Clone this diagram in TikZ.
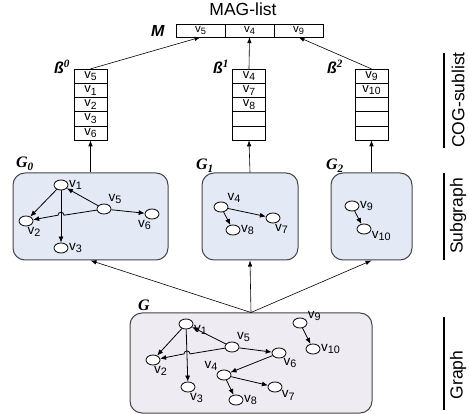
\documentclass[tikz,border=0pt]{standalone}
\usepackage{fontspec}
\setmainfont{Liberation Serif}
\setsansfont{Liberation Sans}
\usetikzlibrary{shapes.geometric}
\usetikzlibrary{arrows.meta}
\definecolor{subfill}{RGB}{227,233,245}
\definecolor{graphfill}{RGB}{238,235,242}
\definecolor{boxline}{RGB}{70,70,70}
\newcommand{\vtx}[1]{v\raisebox{-0.35ex}{\scalebox{0.8}{#1}}}
\newcommand{\gname}[2]{\textbf{\textit{#1}}\textsubscript{\textbf{\textit{#2}}}}
\newcommand{\bname}[1]{\textsf{\textbf{\textit{ß}}}\textsuperscript{\textbf{\textit{#1}}}}

\begin{document}
\begin{tikzpicture}[x=1pt,y=-1pt,
    cell/.style={draw,minimum width=33,minimum height=14.2,inner sep=0pt,font=\sffamily\fontsize{13}{13}\selectfont},
    magcell/.style={draw,minimum width=49,minimum height=13,inner sep=0pt,font=\sffamily\fontsize{11.5}{11.5}\selectfont},
    sub/.style={draw=boxline,line width=1pt,fill=subfill,rounded corners=12pt,minimum height=87,inner sep=0pt},
    whole/.style={draw=boxline,line width=1pt,fill=graphfill,rounded corners=12pt,minimum width=242,minimum height=100,inner sep=0pt},
    vert/.style={ellipse,draw,fill=white,line width=0.8pt,inner sep=0pt,minimum width=14,minimum height=10},
    vlab/.style={font=\sffamily\fontsize{13.5}{13.5}\selectfont,inner sep=0.5pt},
    link/.style={-{Latex[length=6pt,width=5pt]},line width=0.8pt},
    up/.style={-{Latex[length=6pt,width=4.5pt]},line width=0.6pt},
    side/.style={rotate=90,font=\sffamily\fontsize{17.5}{17.5}\selectfont},
    tag/.style={font=\fontsize{16}{16}\selectfont}]
    \useasboundingbox (0,0) rectangle (469,414);

    % MAG-list on top
    \node[font=\sffamily\fontsize{17.5}{17.5}\selectfont] (mag) at (243,9) {MAG-list};
    \node[tag] (mname) at (158,31) {\textsf{\textbf{\textit{M}}}};
    \foreach \n [count=\i] in {5,4,9}
        \node[magcell] (m-\i) at ({151.5+49*\i},30.5) {\vtx{\n}};

    % COG-sublists
    \foreach \t [count=\i] in {\vtx{5},\vtx{1},\vtx{2},\vtx{3},\vtx{6}}
        \node[cell] (b0-\i) at (90.5,{62+14.2*\i}) {\t};
    \foreach \t [count=\i] in {\vtx{4},\vtx{7},\vtx{8},{},{}}
        \node[cell] (b1-\i) at (249,{62+14.2*\i}) {\t};
    \foreach \t [count=\i] in {\vtx{9},\vtx{10},{},{},{}}
        \node[cell] (b2-\i) at (371.5,{62+14.2*\i}) {\t};
    \node[tag] (bn0) at (62,67) {\bname{0}};
    \node[tag] (bn1) at (221,67) {\bname{1}};
    \node[tag] (bn2) at (335,67) {\bname{2}};
    \draw[up] (b0-1.north) -- (m-1.south);
    \draw[up] (b1-1.north) -- (m-2.south);
    \draw[up] (b2-1.north) -- (m-3.south);

    % subgraphs and the whole graph
    \node[sub,minimum width=155] (g0) at (90.5,216.5) {};
    \node[sub,minimum width=96] (g1) at (250,216.5) {};
    \node[sub,minimum width=81] (g2) at (371.5,216.5) {};
    \node[whole] (g) at (251,363) {};
    \node[tag] (gn0) at (25,164) {\gname{G}{0}};
    \node[tag] (gn1) at (205,166) {\gname{G}{1}};
    \node[tag] (gn2) at (335,166) {\gname{G}{2}};
    \node[tag] (gn) at (144,305) {\textbf{\textit{G}}};
    \draw[up] (g0.north) -- (b0-5.south);
    \draw[up] (g1.north) -- (b1-5.south);
    \draw[up] (g2.north) -- (b2-5.south);
    \draw[up] (g.north) -- (g0.south);
    \draw[up] (g.north) -- (g1.south);
    \draw[up] (g.north) -- (g2.south);

    % G0
    \node[vert,label={[vlab]0:\vtx{1}}] (a1) at (61,185) {};
    \node[vert,label={[vlab]50:\vtx{5}}] (a5) at (104,209) {};
    \node[vert,label={[vlab]-80:\vtx{2}}] (a2) at (26,221) {};
    \node[vert,label={[vlab]-95:\vtx{6}}] (a6) at (152,214) {};
    \node[vert,label={[vlab]0:\vtx{3}}] (a3) at (61,248) {};
    \draw[link] (a1) -- (a2);
    \draw[link] (a1) -- (a3);
    \draw[link] (a5) -- (a1);
    \draw[link] (a5) -- (a6);
    \draw[link] (a5) -- (64,215.2) arc[start angle=0,end angle=-180,radius=3] -- (a2);

    % G1
    \node[vert,label={[vlab]30:\vtx{4}}] (c4) at (221,207) {};
    \node[vert,label={[vlab]0:\vtx{8}}] (c8) at (233,230) {};
    \node[vert,label={[vlab]-75:\vtx{7}}] (c7) at (273,218) {};
    \draw[link] (c4) -- (c8);
    \draw[link] (c4) -- (c7);

    % G2
    \node[vert,label={[vlab]0:\vtx{9}}] (d9) at (352,206) {};
    \node[vert,label={[vlab]-10:\vtx{10}}] (d10) at (364,229) {};
    \draw[link] (d9) -- (d10);

    % G
    \node[vert,label={[vlab]-5:\vtx{1}}] (v1) at (186,324) {};
    \node[vert,label={[vlab]45:\vtx{5}}] (v5) at (232,347) {};
    \node[vert,label={[vlab]-85:\vtx{2}}] (v2) at (153,360) {};
    \node[vert,label={[vlab]-75:\vtx{3}}] (v3) at (188,387) {};
    \node[vert,label={[vlab]-50:\vtx{6}}] (v6) at (279,353) {};
    \node[vert,label={[vlab]150:\vtx{4}}] (v4) at (224,375) {};
    \node[vert,label={[vlab]-25:\vtx{7}}] (v7) at (275,387) {};
    \node[vert,label={[vlab]0:\vtx{8}}] (v8) at (236,400) {};
    \node[vert,label={[vlab]10:\vtx{9}}] (v9) at (300,323) {};
    \node[vert,label={[vlab]0:\vtx{10}}] (v10) at (313,349) {};
    \draw[link] (v1) -- (v2);
    \draw[link] (v1) -- (v3);
    \draw[link] (v5) -- (v1);
    \draw[link] (v5) -- (v6);
    \draw[link] (v5) -- (190,353.9) arc[start angle=0,end angle=-180,radius=3] -- (v2);
    \draw[link] (v6) -- (v4);
    \draw[link] (v4) -- (v7);
    \draw[link] (v4) -- (v8);
    \draw[link] (v9) -- (v10);

    % level labels on the right
    \draw[line width=1.5pt] (444,53) -- (444,148);
    \draw[line width=1.5pt] (444,173) -- (444,260);
    \draw[line width=1.5pt] (444,317) -- (444,410);
    \node[side] (lcog) at (458,100) {COG-sublist};
    \node[side] (lsub) at (458,216) {Subgraph};
    \node[side] (lgr) at (458,375) {Graph};
\end{tikzpicture}
\end{document}
